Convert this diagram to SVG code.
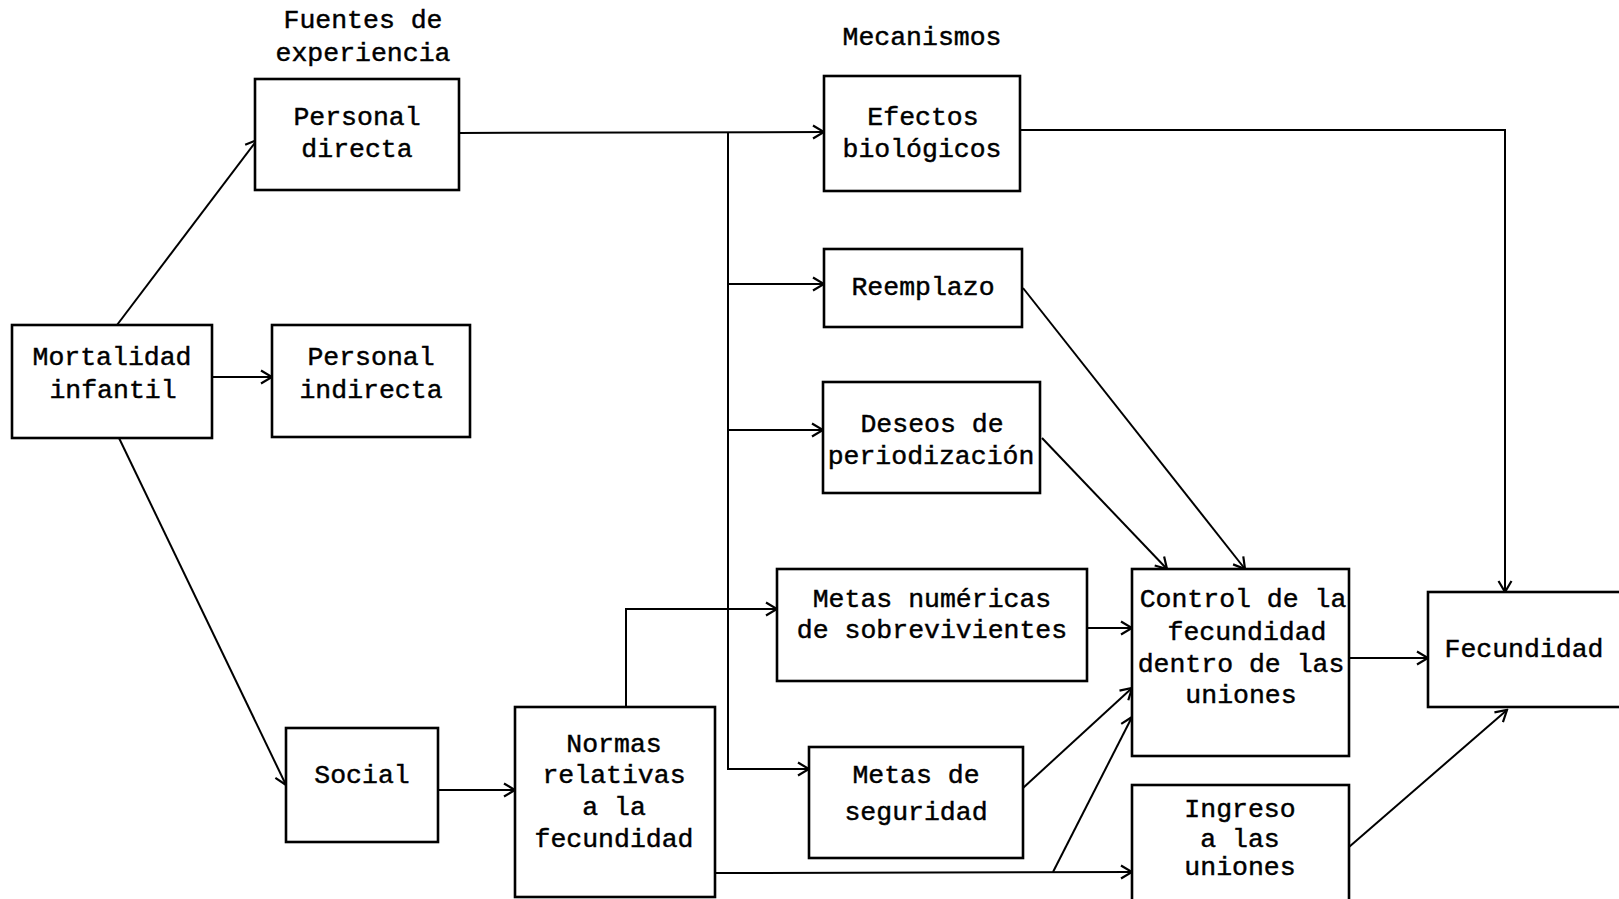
<svg xmlns="http://www.w3.org/2000/svg" width="1619" height="899" viewBox="0 0 1619 899">
<style>
.box{fill:#fff;stroke:#000;stroke-width:2.6}
.t{font-family:"Liberation Mono","Courier New",monospace;font-size:26.5px;fill:#000;stroke:#000;stroke-width:0.45;text-anchor:middle}
.c{fill:none;stroke:#000;stroke-width:2}
</style>
<defs>
<marker id="ar" markerUnits="userSpaceOnUse" markerWidth="16" markerHeight="16" viewBox="0 0 16 16" refX="14" refY="8" orient="auto">
<path d="M3,1.5 L14,8 L3,14.5" fill="none" stroke="#000" stroke-width="2.2"/>
</marker>
</defs>
<rect width="1619" height="899" fill="#fff"/>
<g id="headers">
<text class="t" x="363" y="28">Fuentes de</text>
<text class="t" x="363" y="61">experiencia</text>
<text class="t" x="922" y="45">Mecanismos</text>
</g>
<g id="connectors">
<path class="c" d="M117,325 L257,140" marker-end="url(#ar)"/>
<path class="c" d="M212,377 L272,377" marker-end="url(#ar)"/>
<path class="c" d="M119,438 L286,785" marker-end="url(#ar)"/>
<path class="c" d="M459,133 L824,132" marker-end="url(#ar)"/>
<path class="c" d="M728,132 L728,769 L809,769" marker-end="url(#ar)"/>
<path class="c" d="M728,284 L824,284" marker-end="url(#ar)"/>
<path class="c" d="M728,430 L823,430" marker-end="url(#ar)"/>
<path class="c" d="M1020,130 L1505,130 L1505,592" marker-end="url(#ar)"/>
<path class="c" d="M1023,288 L1245,569" marker-end="url(#ar)"/>
<path class="c" d="M1042,438 L1167,569" marker-end="url(#ar)"/>
<path class="c" d="M438,790 L515,790" marker-end="url(#ar)"/>
<path class="c" d="M626,707 L626,609 L777,609" marker-end="url(#ar)"/>
<path class="c" d="M715,873 L1132,872" marker-end="url(#ar)"/>
<path class="c" d="M1087,628 L1132,628" marker-end="url(#ar)"/>
<path class="c" d="M1023,788 L1132,688" marker-end="url(#ar)"/>
<path class="c" d="M1053,872 L1132,717" marker-end="url(#ar)"/>
<path class="c" d="M1349,658 L1428,658" marker-end="url(#ar)"/>
<path class="c" d="M1349,847 L1507,710" marker-end="url(#ar)"/>
</g>
<g id="mortalidad">
<rect class="box" x="12" y="325" width="200" height="113"/>
<text class="t" x="112" y="365">Mortalidad</text>
<text class="t" x="113" y="398">infantil</text>
</g>
<g id="personal-directa">
<rect class="box" x="255" y="79" width="204" height="111"/>
<text class="t" x="357" y="125">Personal</text>
<text class="t" x="357" y="157">directa</text>
</g>
<g id="personal-indirecta">
<rect class="box" x="272" y="325" width="198" height="112"/>
<text class="t" x="371" y="365">Personal</text>
<text class="t" x="371" y="398">indirecta</text>
</g>
<g id="social">
<rect class="box" x="286" y="728" width="152" height="114"/>
<text class="t" x="362" y="783">Social</text>
</g>
<g id="normas">
<rect class="box" x="515" y="707" width="200" height="190"/>
<text class="t" x="614" y="752">Normas</text>
<text class="t" x="614" y="783">relativas</text>
<text class="t" x="614" y="815">a la</text>
<text class="t" x="614" y="847">fecundidad</text>
</g>
<g id="efectos">
<rect class="box" x="824" y="76" width="196" height="115"/>
<text class="t" x="923" y="125">Efectos</text>
<text class="t" x="922" y="157">biológicos</text>
</g>
<g id="reemplazo">
<rect class="box" x="824" y="249" width="198" height="78"/>
<text class="t" x="923" y="295">Reemplazo</text>
</g>
<g id="deseos">
<rect class="box" x="823" y="382" width="217" height="111"/>
<text class="t" x="932" y="432">Deseos de</text>
<text class="t" x="931" y="464">periodización</text>
</g>
<g id="metas-numericas">
<rect class="box" x="777" y="569" width="310" height="112"/>
<text class="t" x="932" y="607">Metas numéricas</text>
<text class="t" x="932" y="638">de sobrevivientes</text>
</g>
<g id="metas-seguridad">
<rect class="box" x="809" y="747" width="214" height="111"/>
<text class="t" x="916" y="783">Metas de</text>
<text class="t" x="916" y="820">seguridad</text>
</g>
<g id="control">
<rect class="box" x="1132" y="569" width="217" height="187"/>
<text class="t" x="1243" y="607">Control de la</text>
<text class="t" x="1247" y="640">fecundidad</text>
<text class="t" x="1241" y="672">dentro de las</text>
<text class="t" x="1241" y="703">uniones</text>
</g>
<g id="ingreso">
<rect class="box" x="1132" y="785" width="217" height="130"/>
<text class="t" x="1240" y="817">Ingreso</text>
<text class="t" x="1240" y="847">a las</text>
<text class="t" x="1240" y="875">uniones</text>
</g>
<g id="fecundidad">
<rect class="box" x="1428" y="592" width="200" height="115"/>
<text class="t" x="1524" y="657">Fecundidad</text>
</g>
</svg>
